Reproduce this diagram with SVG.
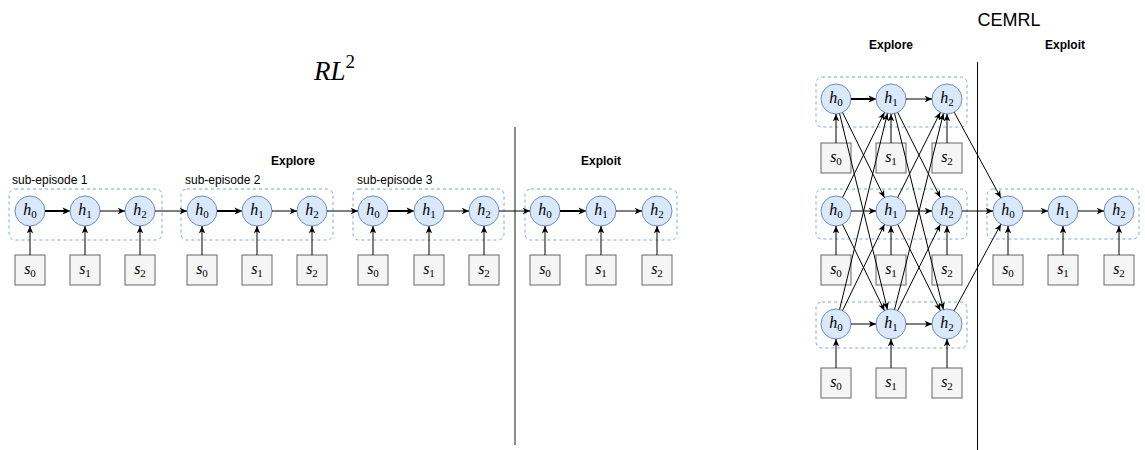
<svg xmlns="http://www.w3.org/2000/svg" width="1145" height="450" viewBox="0 0 1145 450">
  <defs>
    <marker id="arr" viewBox="0 0 10 10" refX="9" refY="5" markerWidth="9" markerHeight="9" markerUnits="userSpaceOnUse" orient="auto">
      <path d="M1,1.5 L9,5 L1,8.5 L3,5 Z" fill="#000"/>
    </marker>
    <marker id="arrT" viewBox="0 0 10 10" refX="5" refY="5" markerWidth="10" markerHeight="10" markerUnits="userSpaceOnUse" orient="auto">
      <path d="M1,1.5 L9,5 L1,8.5 L3,5 Z" fill="#000"/>
    </marker>
  </defs>
  <style>
    .h { fill: #dae8fc; stroke: #6c8ebf; stroke-width: 1; }
    .s { fill: #f5f5f5; stroke: #666666; stroke-width: 1; }
    .grp { fill: none; stroke: #7ea6e0; stroke-width: 1; stroke-dasharray: 3 3; }
    .ln { fill: none; stroke: #000; stroke-width: 1; marker-end: url(#arr); }
    .lnT { fill: none; stroke: #000; stroke-width: 2; marker-end: url(#arrT); }
    .math { font-family: "Liberation Serif", "Times New Roman", serif; font-size: 16px; fill: #000; text-anchor: middle; }
    .math .v { font-style: italic; }
    .math .sub { font-size: 11px; }
    .lbl { font-family: "Liberation Sans", Arial, sans-serif; font-size: 12px; fill: #000; }
    .hdr { font-family: "Liberation Sans", Arial, sans-serif; font-size: 12px; font-weight: bold; fill: #000; text-anchor: middle; }
    .title { font-family: "Liberation Sans", Arial, sans-serif; font-size: 18px; fill: #000; text-anchor: middle; }
    .big { font-family: "Liberation Serif", "Times New Roman", serif; font-size: 27px; fill: #000; }
  </style>

  <!-- ===================== RL^2 ===================== -->
  <text class="big" x="314" y="80"><tspan font-style="italic">RL</tspan><tspan font-size="19" dy="-12">2</tspan></text>
  <text class="hdr" x="293" y="165">Explore</text>
  <text class="hdr" x="601" y="165">Exploit</text>
  <line x1="515" y1="127" x2="515" y2="445" stroke="#666" stroke-width="1.5"/>

  <text class="lbl" x="12" y="184">sub-episode 1</text>
  <text class="lbl" x="185" y="184">sub-episode 2</text>
  <text class="lbl" x="357" y="184">sub-episode 3</text>

  <g id="rl2-sub1">
    <rect class="grp" x="9" y="189" width="153" height="51" rx="6"/>
    <circle class="h" cx="30" cy="211" r="15"/>
    <circle class="h" cx="85" cy="211" r="15"/>
    <circle class="h" cx="140" cy="211" r="15"/>
    <text class="math" x="30" y="215"><tspan class="v">h</tspan><tspan class="sub" dy="3">0</tspan></text>
    <text class="math" x="85" y="215"><tspan class="v">h</tspan><tspan class="sub" dy="3">1</tspan></text>
    <text class="math" x="140" y="215"><tspan class="v">h</tspan><tspan class="sub" dy="3">2</tspan></text>
    <rect class="s" x="15" y="255" width="30" height="30"/>
    <rect class="s" x="70" y="255" width="30" height="30"/>
    <rect class="s" x="125" y="255" width="30" height="30"/>
    <text class="math" x="30" y="274"><tspan class="v">s</tspan><tspan class="sub" dy="3">0</tspan></text>
    <text class="math" x="85" y="274"><tspan class="v">s</tspan><tspan class="sub" dy="3">1</tspan></text>
    <text class="math" x="140" y="274"><tspan class="v">s</tspan><tspan class="sub" dy="3">2</tspan></text>
  </g>

  <g id="rl2-sub2">
    <rect class="grp" x="181" y="189" width="152" height="51" rx="6"/>
    <circle class="h" cx="202" cy="211" r="15"/>
    <circle class="h" cx="257" cy="211" r="15"/>
    <circle class="h" cx="312" cy="211" r="15"/>
    <text class="math" x="202" y="215"><tspan class="v">h</tspan><tspan class="sub" dy="3">0</tspan></text>
    <text class="math" x="257" y="215"><tspan class="v">h</tspan><tspan class="sub" dy="3">1</tspan></text>
    <text class="math" x="312" y="215"><tspan class="v">h</tspan><tspan class="sub" dy="3">2</tspan></text>
    <rect class="s" x="187" y="255" width="30" height="30"/>
    <rect class="s" x="242" y="255" width="30" height="30"/>
    <rect class="s" x="297" y="255" width="30" height="30"/>
    <text class="math" x="202" y="274"><tspan class="v">s</tspan><tspan class="sub" dy="3">0</tspan></text>
    <text class="math" x="257" y="274"><tspan class="v">s</tspan><tspan class="sub" dy="3">1</tspan></text>
    <text class="math" x="312" y="274"><tspan class="v">s</tspan><tspan class="sub" dy="3">2</tspan></text>
  </g>

  <g id="rl2-sub3">
    <rect class="grp" x="353" y="189" width="151" height="51" rx="6"/>
    <circle class="h" cx="373" cy="211" r="15"/>
    <circle class="h" cx="429" cy="211" r="15"/>
    <circle class="h" cx="484" cy="211" r="15"/>
    <text class="math" x="373" y="215"><tspan class="v">h</tspan><tspan class="sub" dy="3">0</tspan></text>
    <text class="math" x="429" y="215"><tspan class="v">h</tspan><tspan class="sub" dy="3">1</tspan></text>
    <text class="math" x="484" y="215"><tspan class="v">h</tspan><tspan class="sub" dy="3">2</tspan></text>
    <rect class="s" x="358" y="255" width="30" height="30"/>
    <rect class="s" x="414" y="255" width="30" height="30"/>
    <rect class="s" x="469" y="255" width="30" height="30"/>
    <text class="math" x="373" y="274"><tspan class="v">s</tspan><tspan class="sub" dy="3">0</tspan></text>
    <text class="math" x="429" y="274"><tspan class="v">s</tspan><tspan class="sub" dy="3">1</tspan></text>
    <text class="math" x="484" y="274"><tspan class="v">s</tspan><tspan class="sub" dy="3">2</tspan></text>
  </g>

  <g id="rl2-exploit">
    <rect class="grp" x="525" y="189" width="152" height="51" rx="6"/>
    <circle class="h" cx="545" cy="211" r="15"/>
    <circle class="h" cx="601" cy="211" r="15"/>
    <circle class="h" cx="657" cy="211" r="15"/>
    <text class="math" x="545" y="215"><tspan class="v">h</tspan><tspan class="sub" dy="3">0</tspan></text>
    <text class="math" x="601" y="215"><tspan class="v">h</tspan><tspan class="sub" dy="3">1</tspan></text>
    <text class="math" x="657" y="215"><tspan class="v">h</tspan><tspan class="sub" dy="3">2</tspan></text>
    <rect class="s" x="530" y="255" width="30" height="30"/>
    <rect class="s" x="586" y="255" width="30" height="30"/>
    <rect class="s" x="642" y="255" width="30" height="30"/>
    <text class="math" x="545" y="274"><tspan class="v">s</tspan><tspan class="sub" dy="3">0</tspan></text>
    <text class="math" x="601" y="274"><tspan class="v">s</tspan><tspan class="sub" dy="3">1</tspan></text>
    <text class="math" x="657" y="274"><tspan class="v">s</tspan><tspan class="sub" dy="3">2</tspan></text>
  </g>

  <g id="rl2-connectors">
    <!-- recurrent links -->
    <line class="lnT" x1="45" y1="211" x2="66.5" y2="211"/>
    <line class="ln" x1="100" y1="211" x2="125" y2="211"/>
    <line class="ln" x1="155" y1="211" x2="187" y2="211"/>
    <line class="lnT" x1="217" y1="211" x2="238.5" y2="211"/>
    <line class="ln" x1="272" y1="211" x2="297" y2="211"/>
    <line class="ln" x1="327" y1="211" x2="358" y2="211"/>
    <line class="lnT" x1="388" y1="211" x2="410.5" y2="211"/>
    <line class="ln" x1="444" y1="211" x2="469" y2="211"/>
    <line class="ln" x1="499" y1="211" x2="530" y2="211"/>
    <line class="lnT" x1="560" y1="211" x2="582.5" y2="211"/>
    <line class="ln" x1="616" y1="211" x2="642" y2="211"/>
    <!-- state inputs -->
    <line class="ln" x1="30" y1="255" x2="30" y2="226"/>
    <line class="ln" x1="85" y1="255" x2="85" y2="226"/>
    <line class="ln" x1="140" y1="255" x2="140" y2="226"/>
    <line class="ln" x1="202" y1="255" x2="202" y2="226"/>
    <line class="ln" x1="257" y1="255" x2="257" y2="226"/>
    <line class="ln" x1="312" y1="255" x2="312" y2="226"/>
    <line class="ln" x1="373" y1="255" x2="373" y2="226"/>
    <line class="ln" x1="429" y1="255" x2="429" y2="226"/>
    <line class="ln" x1="484" y1="255" x2="484" y2="226"/>
    <line class="ln" x1="545" y1="255" x2="545" y2="226"/>
    <line class="ln" x1="601" y1="255" x2="601" y2="226"/>
    <line class="ln" x1="657" y1="255" x2="657" y2="226"/>
  </g>

  <!-- ===================== CEMRL ===================== -->
  <text class="title" x="1009" y="26">CEMRL</text>
  <text class="hdr" x="891" y="49">Explore</text>
  <text class="hdr" x="1065" y="49">Exploit</text>
  <line x1="977.5" y1="62" x2="977.5" y2="450" stroke="#000" stroke-width="1"/>

  <g id="cemrl-row1">
    <rect class="grp" x="816" y="77" width="151" height="50" rx="6"/>
    <circle class="h" cx="836" cy="99" r="15"/>
    <circle class="h" cx="891" cy="99" r="15"/>
    <circle class="h" cx="947" cy="99" r="15"/>
    <text class="math" x="836" y="103"><tspan class="v">h</tspan><tspan class="sub" dy="3">0</tspan></text>
    <text class="math" x="891" y="103"><tspan class="v">h</tspan><tspan class="sub" dy="3">1</tspan></text>
    <text class="math" x="947" y="103"><tspan class="v">h</tspan><tspan class="sub" dy="3">2</tspan></text>
    <rect class="s" x="821" y="143" width="30" height="30"/>
    <rect class="s" x="876" y="143" width="30" height="30"/>
    <rect class="s" x="932" y="143" width="30" height="30"/>
    <text class="math" x="836" y="162"><tspan class="v">s</tspan><tspan class="sub" dy="3">0</tspan></text>
    <text class="math" x="891" y="162"><tspan class="v">s</tspan><tspan class="sub" dy="3">1</tspan></text>
    <text class="math" x="947" y="162"><tspan class="v">s</tspan><tspan class="sub" dy="3">2</tspan></text>
  </g>

  <g id="cemrl-row2">
    <rect class="grp" x="816" y="189" width="151" height="50" rx="6"/>
    <circle class="h" cx="836" cy="211" r="15"/>
    <circle class="h" cx="891" cy="211" r="15"/>
    <circle class="h" cx="947" cy="211" r="15"/>
    <text class="math" x="836" y="215"><tspan class="v">h</tspan><tspan class="sub" dy="3">0</tspan></text>
    <text class="math" x="891" y="215"><tspan class="v">h</tspan><tspan class="sub" dy="3">1</tspan></text>
    <text class="math" x="947" y="215"><tspan class="v">h</tspan><tspan class="sub" dy="3">2</tspan></text>
    <rect class="s" x="821" y="255" width="30" height="30"/>
    <rect class="s" x="876" y="255" width="30" height="30"/>
    <rect class="s" x="932" y="255" width="30" height="30"/>
    <text class="math" x="836" y="274"><tspan class="v">s</tspan><tspan class="sub" dy="3">0</tspan></text>
    <text class="math" x="891" y="274"><tspan class="v">s</tspan><tspan class="sub" dy="3">1</tspan></text>
    <text class="math" x="947" y="274"><tspan class="v">s</tspan><tspan class="sub" dy="3">2</tspan></text>
  </g>

  <g id="cemrl-row3">
    <rect class="grp" x="816" y="302" width="151" height="46" rx="6"/>
    <circle class="h" cx="836" cy="324" r="15"/>
    <circle class="h" cx="891" cy="324" r="15"/>
    <circle class="h" cx="947" cy="324" r="15"/>
    <text class="math" x="836" y="328"><tspan class="v">h</tspan><tspan class="sub" dy="3">0</tspan></text>
    <text class="math" x="891" y="328"><tspan class="v">h</tspan><tspan class="sub" dy="3">1</tspan></text>
    <text class="math" x="947" y="328"><tspan class="v">h</tspan><tspan class="sub" dy="3">2</tspan></text>
    <rect class="s" x="821" y="368" width="30" height="30"/>
    <rect class="s" x="876" y="368" width="30" height="30"/>
    <rect class="s" x="932" y="368" width="30" height="30"/>
    <text class="math" x="836" y="387"><tspan class="v">s</tspan><tspan class="sub" dy="3">0</tspan></text>
    <text class="math" x="891" y="387"><tspan class="v">s</tspan><tspan class="sub" dy="3">1</tspan></text>
    <text class="math" x="947" y="387"><tspan class="v">s</tspan><tspan class="sub" dy="3">2</tspan></text>
  </g>

  <g id="cemrl-exploit">
    <rect class="grp" x="987" y="189" width="152" height="50" rx="6"/>
    <circle class="h" cx="1008" cy="211" r="15"/>
    <circle class="h" cx="1063" cy="211" r="15"/>
    <circle class="h" cx="1119" cy="211" r="15"/>
    <text class="math" x="1008" y="215"><tspan class="v">h</tspan><tspan class="sub" dy="3">0</tspan></text>
    <text class="math" x="1063" y="215"><tspan class="v">h</tspan><tspan class="sub" dy="3">1</tspan></text>
    <text class="math" x="1119" y="215"><tspan class="v">h</tspan><tspan class="sub" dy="3">2</tspan></text>
    <rect class="s" x="993" y="255" width="30" height="30"/>
    <rect class="s" x="1048" y="255" width="30" height="30"/>
    <rect class="s" x="1104" y="255" width="30" height="30"/>
    <text class="math" x="1008" y="274"><tspan class="v">s</tspan><tspan class="sub" dy="3">0</tspan></text>
    <text class="math" x="1063" y="274"><tspan class="v">s</tspan><tspan class="sub" dy="3">1</tspan></text>
    <text class="math" x="1119" y="274"><tspan class="v">s</tspan><tspan class="sub" dy="3">2</tspan></text>
  </g>

  <g id="cemrl-connectors">
    <!-- recurrent links within each row -->
    <line class="lnT" x1="851" y1="99" x2="872.5" y2="99"/>
    <line class="ln" x1="906" y1="99" x2="932" y2="99"/>
    <line class="ln" x1="851" y1="211" x2="876" y2="211"/>
    <line class="ln" x1="906" y1="211" x2="932" y2="211"/>
    <line class="ln" x1="851" y1="324" x2="876" y2="324"/>
    <line class="ln" x1="906" y1="324" x2="932" y2="324"/>
    <line class="ln" x1="1023" y1="211" x2="1048" y2="211"/>
    <line class="ln" x1="1078" y1="211" x2="1104" y2="211"/>
    <!-- cross links h0 -> h1 -->
    <line class="ln" x1="842.6" y1="112.5" x2="884.4" y2="197.5"/>
    <line class="ln" x1="839.6" y1="113.6" x2="887.4" y2="309.4"/>
    <line class="ln" x1="842.6" y1="197.5" x2="884.4" y2="112.5"/>
    <line class="ln" x1="842.6" y1="224.5" x2="884.4" y2="310.5"/>
    <line class="ln" x1="839.6" y1="309.4" x2="887.4" y2="113.6"/>
    <line class="ln" x1="842.6" y1="310.5" x2="884.4" y2="224.5"/>
    <!-- cross links h1 -> h2 -->
    <line class="ln" x1="897.7" y1="112.4" x2="940.3" y2="197.6"/>
    <line class="ln" x1="894.6" y1="113.6" x2="943.4" y2="309.4"/>
    <line class="ln" x1="897.7" y1="197.6" x2="940.3" y2="112.4"/>
    <line class="ln" x1="897.7" y1="224.4" x2="940.3" y2="310.6"/>
    <line class="ln" x1="894.6" y1="309.4" x2="943.4" y2="113.6"/>
    <line class="ln" x1="897.7" y1="310.6" x2="940.3" y2="224.4"/>
    <!-- explore rows feed the exploit row -->
    <line class="ln" x1="954.2" y1="112.2" x2="1000.8" y2="197.8"/>
    <line class="ln" x1="962" y1="211" x2="993" y2="211"/>
    <line class="ln" x1="954.1" y1="310.8" x2="1000.9" y2="224.2"/>
    <!-- state inputs -->
    <line class="ln" x1="836" y1="143" x2="836" y2="114"/>
    <line class="ln" x1="891" y1="143" x2="891" y2="114"/>
    <line class="ln" x1="947" y1="143" x2="947" y2="114"/>
    <line class="ln" x1="836" y1="255" x2="836" y2="226"/>
    <line class="ln" x1="891" y1="255" x2="891" y2="226"/>
    <line class="ln" x1="947" y1="255" x2="947" y2="226"/>
    <line class="ln" x1="836" y1="368" x2="836" y2="339"/>
    <line class="ln" x1="891" y1="368" x2="891" y2="339"/>
    <line class="ln" x1="947" y1="368" x2="947" y2="339"/>
    <line class="ln" x1="1008" y1="255" x2="1008" y2="226"/>
    <line class="ln" x1="1063" y1="255" x2="1063" y2="226"/>
    <line class="ln" x1="1119" y1="255" x2="1119" y2="226"/>
  </g>
</svg>
